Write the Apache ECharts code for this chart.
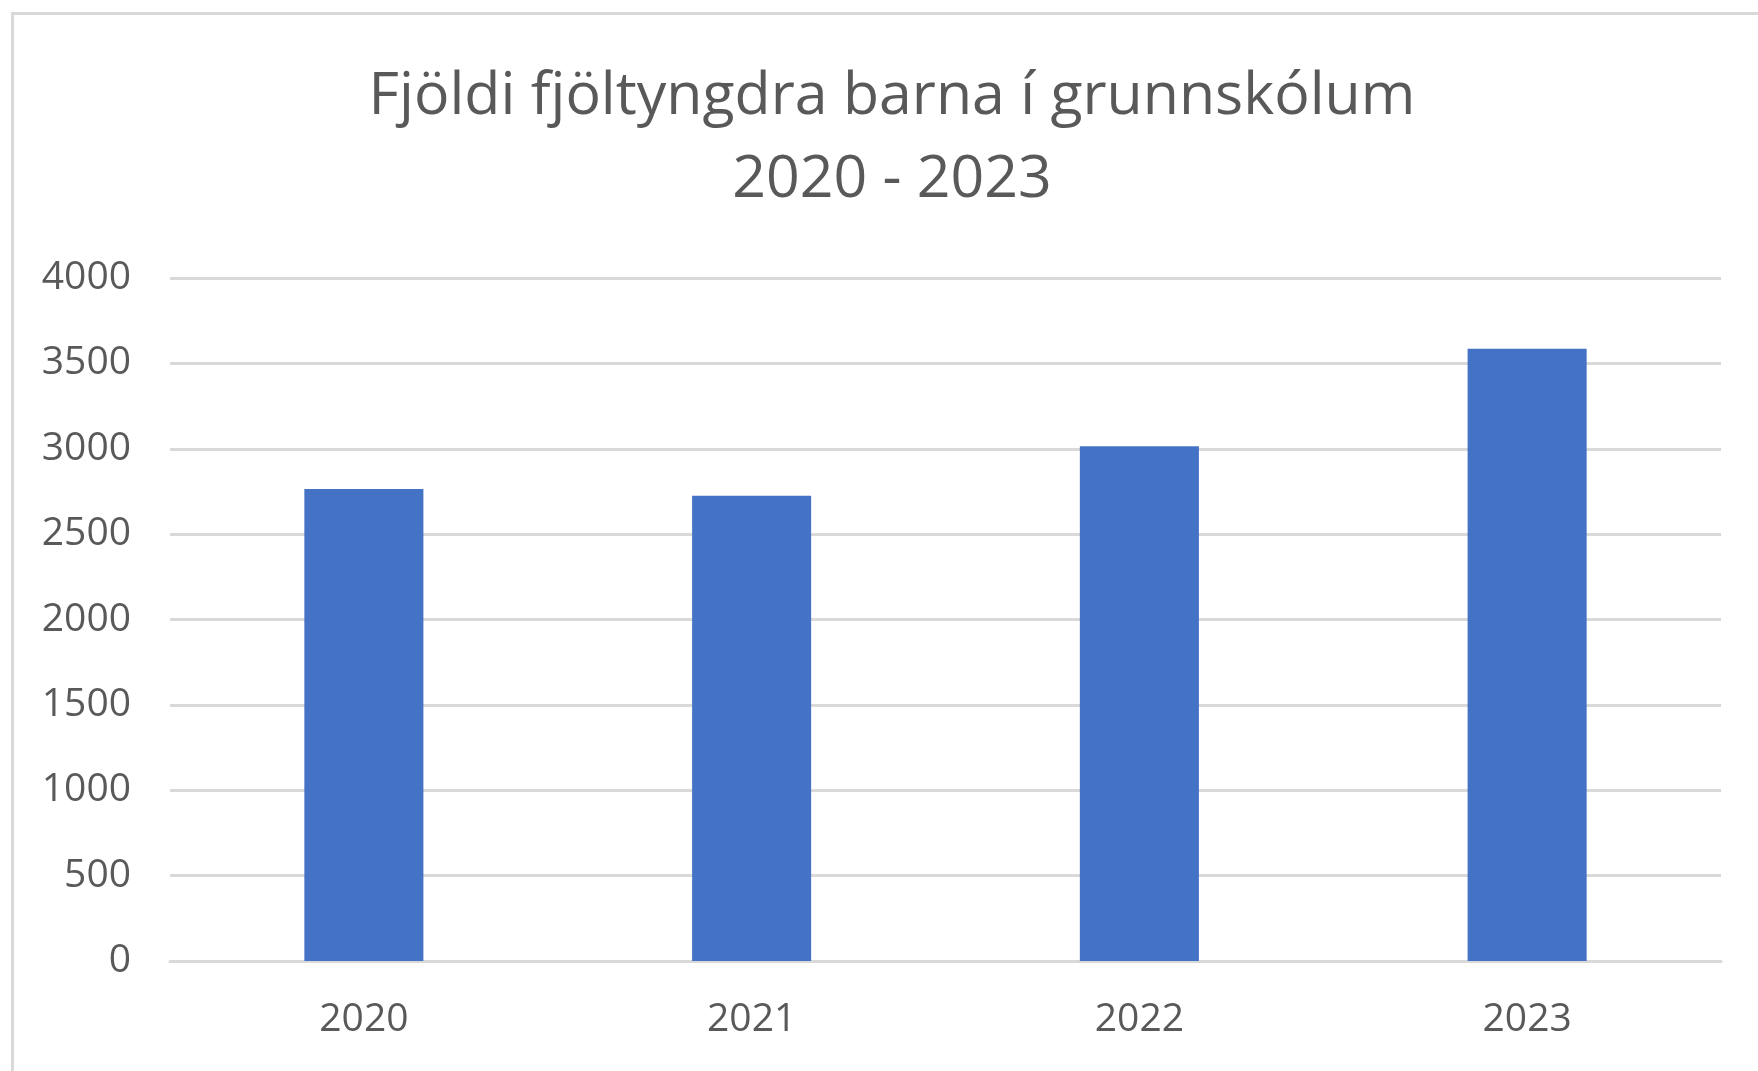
<!DOCTYPE html>
<html>
<head>
<meta charset="utf-8">
<script src="https://cdn.jsdelivr.net/npm/echarts@6/dist/echarts.min.js"></script>
<style>
html,body{margin:0;padding:0;background:#fff;}
#chart{width:1758px;height:1071px;}
</style>
</head>
<body>
<div id="chart"></div>
<script>
const titleText = 'Fjöldi fjöltyngdra barna í grunnskólum\n2020 - 2023';
const categories = ['2020', '2021', '2022', '2023'];
const values = [2765, 2725, 3015, 3585];
const yTicks = { min: 0, max: 4000, interval: 500 };

const chart = echarts.init(document.getElementById('chart'));
chart.setOption({
  backgroundColor: '#ffffff',
  animation: false,
  title: {
    text: titleText,
    left: 887,
    textAlign: 'center',
    top: 51,
    textStyle: {
      fontFamily: '"Open Sans", "Noto Sans", sans-serif',
      fontWeight: 'normal',
      fontSize: 59,
      color: '#595959',
      lineHeight: 83
    }
  },
  graphic: [{
    type: 'rect',
    left: 10, top: 11,
    shape: { width: 1800, height: 1100 },
    style: { fill: 'none', stroke: '#d9d9d9', lineWidth: 3 },
    silent: true
  }],
  grid: { left: 170, right: 37, top: 278, bottom: 110 },
  xAxis: {
    type: 'category',
    data: categories,
    axisLine: { show: true, lineStyle: { color: '#d9d9d9', width: 3 } },
    axisTick: { show: false },
    axisLabel: {
      color: '#595959',
      fontFamily: '"Open Sans", "Noto Sans", sans-serif',
      fontSize: 39,
      margin: 39
    }
  },
  yAxis: {
    type: 'value',
    min: yTicks.min, max: yTicks.max, interval: yTicks.interval,
    axisLine: { show: false },
    axisTick: { show: false },
    splitLine: { lineStyle: { color: '#d9d9d9', width: 3 } },
    axisLabel: {
      color: '#595959',
      fontFamily: '"Open Sans", "Noto Sans", sans-serif',
      fontSize: 39,
      margin: 39,
      formatter: function (v) { return String(v); }
    }
  },
  series: [{
    type: 'bar',
    data: values,
    barWidth: '30.7%',
    itemStyle: { color: '#4472C4' }
  }]
});
</script>
</body>
</html>
